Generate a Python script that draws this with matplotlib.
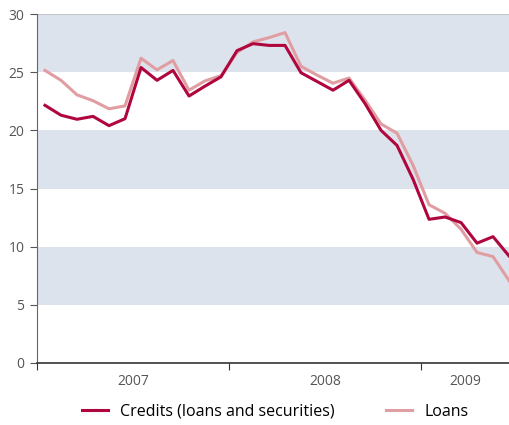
import matplotlib
matplotlib.use('Agg')
import matplotlib.pyplot as plt

# monthly values, Jan 2007 - Jun 2009
credits = [22.15, 21.3, 20.95, 21.2, 20.4, 21.0, 25.4, 24.3, 25.15, 22.95, 23.8, 24.6,
           26.85, 27.45, 27.3, 27.3, 24.95, 24.2, 23.45, 24.3, 22.3, 20.0, 18.7, 15.8,
           12.35, 12.55, 12.07, 10.3, 10.86, 9.2]
loans = [25.15, 24.3, 23.05, 22.55, 21.85, 22.1, 26.2, 25.2, 26.0, 23.45, 24.25, 24.7,
         26.7, 27.6, 27.97, 28.4, 25.5, 24.75, 24.05, 24.5, 22.6, 20.55, 19.75, 17.0,
         13.6, 12.87, 11.5, 9.5, 9.15, 7.08]
years = ['2007', '2008', '2009']
yticks = [0, 5, 10, 15, 20, 25, 30]

months = list(range(len(credits)))

plt.rcParams['font.family'] = ['Open Sans', 'DejaVu Sans']

fig = plt.figure(figsize=(5.1, 4.25), dpi=100)
ax = fig.add_axes([37 / 510, 62 / 425, 473 / 510, 349 / 425])

xmax = 29.06
for lo in (5, 15, 25):
    ax.axhspan(lo, lo + 5, color='#dde3ed', lw=0, zorder=0)
ax.axhline(30, color='#c4c6cc', lw=1.5, zorder=1)

ax.plot(months, loans, color='#e09ea2', lw=2.2, label='Loans', zorder=2)
ax.plot(months, credits, color='#b0063e', lw=2.2, label='Credits (loans and securities)', zorder=3)

ax.set_xlim(-0.5, xmax)
ax.set_ylim(0, 30)
ax.set_yticks(yticks)
ax.set_yticklabels([str(v) for v in yticks], color='#555555', fontsize=10)

ax.set_xticks([-0.5, 11.5, 23.5])
ax.set_xticklabels([])
ax.set_xticks([5.5, 17.5, (23.5 + xmax) / 2], minor=True)
ax.set_xticklabels(years, minor=True, color='#555555', fontsize=10)
ax.tick_params(axis='x', which='minor', length=0, pad=8)
ax.tick_params(axis='x', which='major', length=5, color='#333333', direction='out')
ax.tick_params(axis='y', length=5, color='#555555', pad=4)

ax.spines['top'].set_visible(False)
ax.spines['right'].set_visible(False)
ax.spines['left'].set_color('#666666')
ax.spines['bottom'].set_color('#333333')
ax.spines['bottom'].set_linewidth(1.2)

h, l = ax.get_legend_handles_labels()
fig.legend(h[::-1], l[::-1], loc='center', bbox_to_anchor=(0.54, 13 / 425), ncol=2,
           frameon=False, fontsize=11.5, handlelength=1.6, columnspacing=3.2,
           borderaxespad=0, borderpad=0)

plt.savefig('out.png', dpi=100)
plt.close()
